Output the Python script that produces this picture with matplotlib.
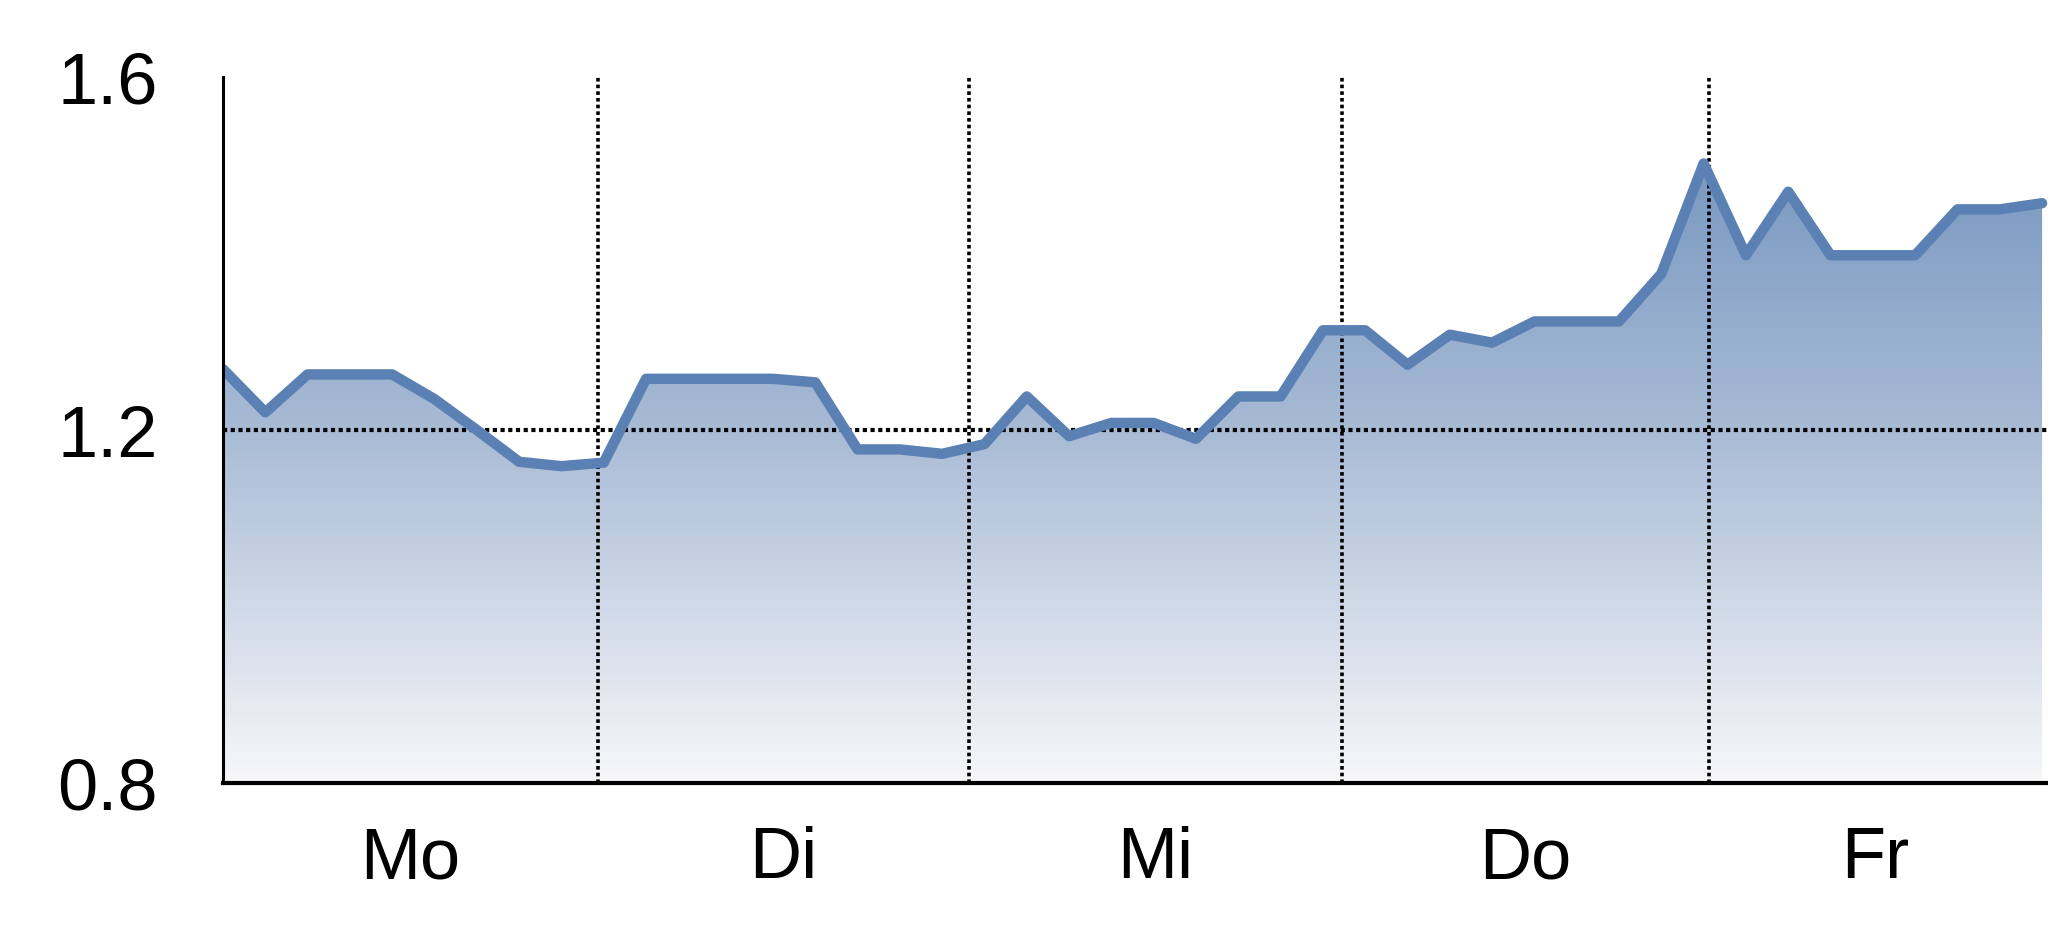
import matplotlib

matplotlib.use("Agg")
import matplotlib.pyplot as plt
import numpy as np
from matplotlib.colors import LinearSegmentedColormap


days = ["Mo", "Di", "Mi", "Do", "Fr"]
# day boundaries in sample-index units (last one = last sample)
day_bounds = [0.0, 8.87, 17.63, 26.45, 35.13, 43.0]
values = [
    1.269, 1.220, 1.263, 1.263, 1.263, 1.235, 1.200, 1.164, 1.159, 1.163,
    1.258, 1.258, 1.258, 1.258, 1.254, 1.178, 1.178, 1.173, 1.184, 1.238,
    1.193, 1.208, 1.208, 1.190, 1.238, 1.238, 1.313, 1.313, 1.274, 1.308,
    1.299, 1.323, 1.323, 1.323, 1.377, 1.502, 1.398, 1.470, 1.398, 1.398,
    1.398, 1.450, 1.450, 1.457,
]
y_ticks = [0.8, 1.2, 1.6]
y_labels = ["0.8", "1.2", "1.6"]
ref_level = 1.2

plt.rcParams["font.family"] = ["Liberation Sans Narrow", "Liberation Sans", "DejaVu Sans"]

W, H = 2048, 937
fig = plt.figure(figsize=(W / 100, H / 100), dpi=100)
ax = fig.add_axes([223 / W, 1 - 784 / H, 1 - 223 / W, 706 / H])

x = np.arange(len(values))
x_max = 43.14
y_min, y_max = 0.8, 1.6

# gradient fill under the line
cmap = LinearSegmentedColormap.from_list(
    "fade", [(0.0, "#f7f7f9"), (0.5, "#a8bbd5"), (1.0, "#6a8dbb")]
)
area = ax.fill_between(x, values, y_min, facecolor="none", edgecolor="none")
grad = np.linspace(0, 1, 256).reshape(-1, 1)
img = ax.imshow(grad, cmap=cmap, origin="lower", aspect="auto",
                extent=[0, x_max, y_min, y_max], zorder=1)
img.set_clip_path(area.get_paths()[0], transform=ax.transData)

dots = (0, (1, 0.85))
ax.axhline(ref_level, color="black", lw=3, linestyle=dots, zorder=2)
for b in day_bounds[1:-1]:
    ax.axvline(b, color="black", lw=2.6, linestyle=dots, zorder=2)

ax.plot(x, values, color="#5a80b4", lw=7.5, zorder=3, solid_capstyle="round")

ax.set_xlim(0, x_max)
ax.set_ylim(y_min, y_max)

for side in ("top", "right"):
    ax.spines[side].set_visible(False)
ax.spines["left"].set_linewidth(2.2)
ax.spines["bottom"].set_linewidth(3)
for sp in ax.spines.values():
    sp.set_zorder(4)

ax.set_xticks([])
ax.set_yticks(y_ticks)
ax.set_yticklabels(y_labels)
ax.tick_params(axis="y", length=0, pad=47, labelsize=52)

for i, name in enumerate(days):
    center = (day_bounds[i] + day_bounds[i + 1]) / 2
    ax.text(center, -0.1076, name, transform=ax.get_xaxis_transform(),
            ha="center", va="center", fontsize=52)

fig.savefig("out.png", dpi=100, facecolor="white")
